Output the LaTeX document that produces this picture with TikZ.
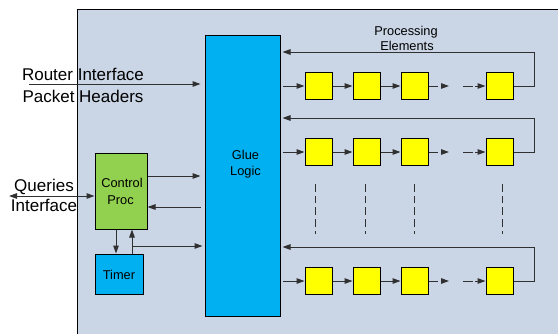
\documentclass[tikz,border=0pt]{standalone}
\usepackage{fontspec}
\setmainfont{Liberation Sans}
\usetikzlibrary{arrows.meta,calc}
\definecolor{panelbg}{HTML}{CAD5E5}
\definecolor{gluecol}{HTML}{00B0F0}
\definecolor{ctrlcol}{HTML}{92D050}
\definecolor{pecol}{HTML}{FFFF00}
\definecolor{wire}{HTML}{303030}

\begin{document}
\begin{tikzpicture}[x=1pt,y=-1pt,
  blk/.style={draw=black,line width=1pt,inner sep=0pt},
  pe/.style={blk,fill=pecol,minimum width=27pt,minimum height=26.5pt},
  bigtxt/.style={font=\fontsize{17}{20}\selectfont,inner sep=0pt,anchor=base},
  smalltxt/.style={font=\fontsize{12.8}{15}\selectfont,inner sep=0pt,anchor=base},
  wireline/.style={draw=wire,line width=1pt},
  flow/.style={wireline,-{Triangle[length=8pt,width=5.5pt]}},
  flowboth/.style={wireline,{Triangle[length=8pt,width=5.5pt]}-{Triangle[length=8pt,width=5.5pt]}},
]
\useasboundingbox (0,0) rectangle (558,333);

% board outline
\fill[panelbg] (77,9) rectangle (562,337);
\draw[black,line width=1pt] (77,337) -- (77,9) -- (562,9);

% main blocks
\node[blk,fill=gluecol,minimum width=75pt,minimum height=281pt] (glue) at (242.5,175.5) {};
\node[smalltxt] (glueA) at (245.5,159.5) {Glue};
\node[smalltxt] (glueB) at (245.5,175) {Logic};

\node[blk,fill=ctrlcol,minimum width=52pt,minimum height=76pt] (ctrl) at (121,191) {};
\node[smalltxt] (ctrlA) at (122,187.3) {Control};
\node[smalltxt] (ctrlB) at (120.5,204) {Proc};

\node[blk,fill=gluecol,minimum width=48pt,minimum height=40pt] (timer) at (119,274) {};
\node[smalltxt] (timerA) at (119,279.3) {Timer};

% external interfaces
\node[bigtxt] (rtA) at (83,80) {Router Interface};
\node[bigtxt] (rtB) at (83,102) {Packet Headers};
\coordinate (rtin) at (29,84);
\draw[flow,shorten >=4pt] (rtin) -- (rtin -| glue.west);

\node[bigtxt] (qA) at (44,191) {Queries};
\node[bigtxt] (qB) at (44,211.5) {Interface};
\coordinate (qin) at (9,196);
\draw[flowboth] (qin) -- (qin -| ctrl.west);

% control / timer wiring
\coordinate (yA) at (0,176);
\coordinate (yC) at (0,207);
\coordinate (yB) at (0,246);
\coordinate (xD) at (116,0);
\coordinate (xU) at (132,0);
\draw[flow,shorten >=4pt] (ctrl.east |- yA) -- (glue.west |- yA);
\draw[flow,shorten <=4pt] (glue.west |- yC) -- (ctrl.east |- yC);
\draw[flow] (ctrl.south -| xD) -- (timer.north -| xD);
\draw[flow] (timer.north -| xU) -- (ctrl.south -| xU);
\draw[flow,shorten >=2pt] (xU |- yB) -- (glue.west |- yB);

% processing elements
\node[smalltxt] (peA) at (406,35) {Processing};
\node[smalltxt] (peB) at (407,50) {Elements};

\foreach \r/\y/\fb in {1/86/52, 2/152/118, 3/281/247}{
  \node[pe] (p\r1) at (318.5,\y) {};
  \node[pe] (p\r2) at (366.5,\y) {};
  \node[pe] (p\r3) at (414.5,\y) {};
  \node[pe] (p\r4) at (499.5,\y) {};
  \coordinate (ga\r) at (449,\y);
  \coordinate (gb\r) at (463,\y);
  \coordinate (fb\r) at (534,\fb);
  \draw[flow,shorten <=2pt] (glue.east |- p\r1) -- (p\r1.west);
  \draw[flow] (p\r1) -- (p\r2);
  \draw[flow] (p\r2) -- (p\r3);
  \draw[flow,dash pattern=on 9pt off 4pt] (p\r3.east) -- (ga\r);
  \draw[flow,dash pattern=on 10pt off 2pt] (gb\r) -- (p\r4.west);
  \draw[flow,shorten >=2pt] (p\r4.east) -| (fb\r) -- (glue.east |- fb\r);
}

% continuation marks between the rows
\foreach \x in {315.3,365,414.3,502.3}
  \draw[wireline,dash pattern=on 7.5pt off 4.2pt] (\x,184) -- (\x,234);
\end{tikzpicture}
\end{document}
